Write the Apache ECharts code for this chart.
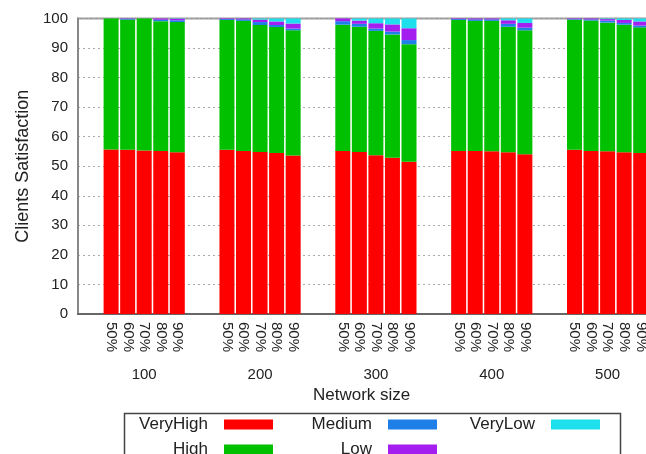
<!DOCTYPE html>
<html><head><meta charset="utf-8">
<script src="https://cdn.jsdelivr.net/npm/echarts@6/dist/echarts.min.js"></script>
<style>html,body{margin:0;padding:0;background:#fff}#c{width:646px;height:454px}</style>
</head><body><div id="c"></div>
<script>
const groups = ['100','200','300','400','500'];
const barLabels = ['50%','60%','70%','80%','90%'];
const seriesNames = ['VeryHigh','High','Medium','Low','VeryLow'];
const seriesColors = ['#ff0000','#00c000','#1e7fe8','#a41ef0','#1ee0ec'];
// values listed group by group (100,200,300,400,500), 5 bars each (50%..90%)
const veryHigh = [55.7,55.6,55.3,55.2,54.7, 55.6,55.2,54.8,54.5,53.6, 55.2,54.8,53.7,52.9,51.5, 55.2,55.2,55.1,54.7,54.1, 55.6,55.2,55.1,54.7,54.5];
const high     = [44.3,44.0,44.7,43.9,44.1, 43.9,44.0,43.0,42.6,42.4, 42.7,42.4,42.1,41.7,39.8, 44.3,44.0,44.1,42.5,41.9, 44.0,44.1,43.5,43.2,42.5];
const medium   = [0.0,0.3,0.0,0.5,0.6, 0.3,0.5,1.0,0.7,0.6, 1.2,1.0,0.8,1.0,1.4, 0.3,0.5,0.5,1.0,0.9, 0.2,0.4,0.7,0.6,0.6];
const low      = [0.0,0.1,0.0,0.4,0.5, 0.2,0.3,0.8,1.2,1.7, 0.9,1.1,1.8,2.4,4.0, 0.2,0.3,0.3,1.2,1.6, 0.2,0.3,0.5,1.0,1.4];
const veryLow  = [0.0,0.0,0.0,0.0,0.1, 0.0,0.0,0.4,1.0,1.7, 0.0,0.7,1.6,2.0,3.3, 0.0,0.0,0.0,0.6,1.5, 0.0,0.0,0.2,0.5,1.0];
const yTicks = [0,10,20,30,40,50,60,70,80,90,100];

const FONT = 'Liberation Sans, Arial, sans-serif';
const slotCount = 36;
const slotOf = (g, j) => 7 * g + j + 2;
const cats = Array.from({length: slotCount}, (_, i) => 's' + i);
const slotBarLabel = {}, slotGroupLabel = {};
groups.forEach((g, gi) => {
  barLabels.forEach((b, j) => { slotBarLabel[slotOf(gi, j)] = b; });
  slotGroupLabel[slotOf(gi, 2)] = g;
});
function toSlots(vals) {
  const a = new Array(slotCount).fill('-');
  vals.forEach((v, i) => { a[slotOf(Math.floor(i / 5), i % 5)] = v; });
  return a;
}
const allVals = [veryHigh, high, medium, low, veryLow];
const series = seriesNames.map((n, i) => ({
  name: n, type: 'bar', stack: 'total', xAxisIndex: 0, barWidth: 15,
  itemStyle: {color: seriesColors[i]},
  data: toSlots(allVals[i])
}));

const legendCommon = {
  orient: 'vertical', align: 'right', top: 416, height: 80, width: 200, itemWidth: 49, itemHeight: 10,
  itemGap: 8, padding: 0, icon: 'rect',
  textStyle: {fontFamily: FONT, fontSize: 17, lineHeight: 10, color: '#222', padding: [0, 11, 0, 0]}
};

const chart = echarts.init(document.getElementById('c'), null, {renderer: 'canvas'});
chart.setOption({
  animation: false,
  backgroundColor: '#fff',
  color: seriesColors,
  grid: {left: 78, top: 18.5, width: 579.25, height: 295.5, show: true, borderColor: '#999', borderWidth: 2,
    backgroundColor: 'transparent', containLabel: false, outerBoundsMode: 'none'},
  xAxis: [{
    type: 'category', data: cats, boundaryGap: false, position: 'bottom',
    axisLine: {lineStyle: {color: '#555', width: 1.5}},
    axisTick: {show: false},
    axisLabel: {interval: 0, rotate: -90, margin: 8, fontFamily: FONT, fontSize: 15, color: '#222',
      formatter: (v, idx) => slotBarLabel[idx] || ''},
    splitLine: {show: false}
  }, {
    type: 'category', data: cats, boundaryGap: false, position: 'bottom',
    axisLine: {show: false}, axisTick: {show: false},
    axisLabel: {interval: 0, margin: 53, fontFamily: FONT, fontSize: 15, color: '#222',
      formatter: (v, idx) => slotGroupLabel[idx] || ''},
    name: 'Network size', nameLocation: 'middle', nameGap: 72,
    nameTextStyle: {fontFamily: FONT, fontSize: 17, color: '#222', padding: [0, 12, 0, 0]}
  }],
  yAxis: {
    type: 'value', min: yTicks[0], max: yTicks[yTicks.length - 1], interval: 10,
    axisLine: {show: true, lineStyle: {color: '#888', width: 2}},
    axisTick: {show: false},
    axisLabel: {margin: 10, fontFamily: FONT, fontSize: 15, color: '#222'},
    splitLine: {show: true, lineStyle: {color: '#aaa', type: [2, 3], width: 1}},
    name: 'Clients Satisfaction', nameLocation: 'middle', nameGap: 46,
    nameTextStyle: {fontFamily: FONT, fontSize: 18, color: '#222'}
  },
  legend: [
    Object.assign({}, legendCommon, {right: 373, data: ['VeryHigh', 'High']}),
    Object.assign({}, legendCommon, {right: 209, data: ['Medium', 'Low']}),
    Object.assign({}, legendCommon, {right: 46, data: ['VeryLow']})
  ],
  graphic: [{
    type: 'rect', left: 122, top: 411, z: 100,
    shape: {width: 496, height: 60},
    style: {fill: 'none', stroke: '#444', lineWidth: 1.5}
  }],
  series: series
});
</script></body></html>
